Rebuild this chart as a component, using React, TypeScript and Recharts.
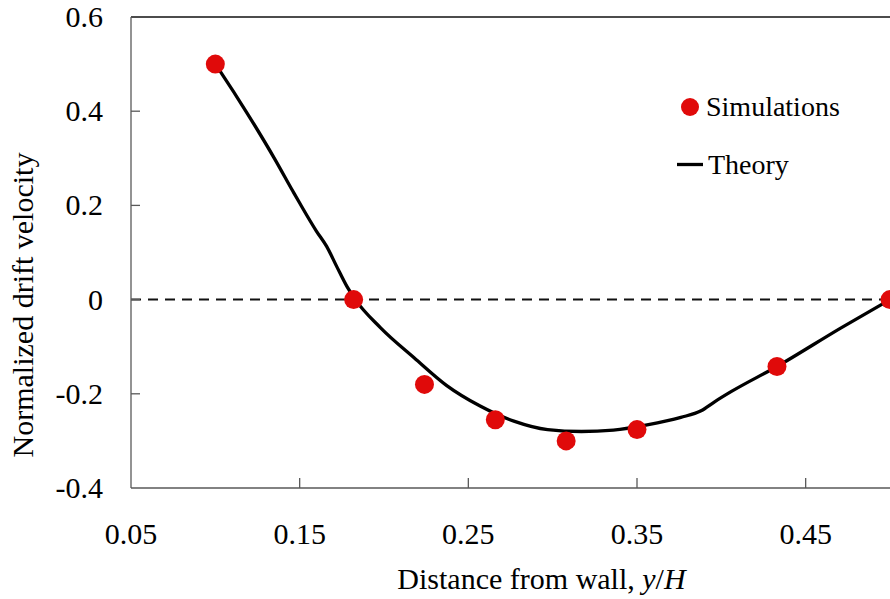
import React from "react";
import {
  ComposedChart,
  Line,
  Scatter,
  XAxis,
  YAxis,
  ReferenceLine,
} from "recharts";

// Simulations (red dots)
const simX = [0.1, 0.182, 0.224, 0.266, 0.308, 0.35, 0.433, 0.5];
const simY = [0.5, 0.0, -0.18, -0.255, -0.3, -0.276, -0.142, 0.0];

// Theory curve (black line)
const theoryX = [
  0.1, 0.103, 0.119, 0.135, 0.146, 0.15, 0.16, 0.166, 0.172, 0.178, 0.183,
  0.198, 0.218, 0.237, 0.257, 0.277, 0.297, 0.317, 0.336, 0.356, 0.376, 0.388,
  0.396, 0.406, 0.433, 0.471, 0.5,
];
const theoryY = [
  0.5, 0.484, 0.395, 0.3, 0.23, 0.205, 0.145, 0.113, 0.07, 0.028, 0.0,
  -0.06, -0.124, -0.182, -0.226, -0.258, -0.276, -0.28, -0.277, -0.266, -0.25,
  -0.236, -0.217, -0.195, -0.142, -0.06, 0.0,
];

const xTicks = [0.05, 0.15, 0.25, 0.35, 0.45];
const yTicks = [-0.4, -0.2, 0, 0.2, 0.4, 0.6];
const xDomain = [0.05, 0.5];
const yDomain = [-0.4, 0.6];

const legendItems = ["Simulations", "Theory"];
const xLabel = "Distance from wall, ";
const yLabel = "Normalized drift velocity";

const simData = simX.map((x, i) => ({ x, y: simY[i] }));
const theoryData = theoryX.map((x, i) => ({ x, y: theoryY[i] }));

const FONT = "'Liberation Serif', 'Times New Roman', serif";
const RED = "#e00a0a";
const AXIS = "#595959";
const textStyle = { fontFamily: FONT };

const XTick = (props: any) => {
  const { x, y, payload } = props;
  return (
    <g>
      {payload.value !== xDomain[0] && (
        <line x1={x} y1={y} x2={x} y2={y - 10} stroke={AXIS} strokeWidth={1.3} />
      )}
      <text
        x={x}
        y={y + 56}
        textAnchor="middle"
        style={textStyle}
        fontSize={30}
        fill="#000"
      >
        {String(payload.value)}
      </text>
    </g>
  );
};

const YTick = (props: any) => {
  const { x, y, payload } = props;
  const v = payload.value;
  return (
    <g>
      {v !== yDomain[0] && v !== yDomain[1] && (
        <line x1={x} y1={y} x2={x + 9} y2={y} stroke={AXIS} strokeWidth={1.3} />
      )}
      <text
        x={x - 28}
        y={y + 10}
        textAnchor="end"
        style={textStyle}
        fontSize={30}
        fill="#000"
      >
        {String(v)}
      </text>
    </g>
  );
};

const Dot = (props: any) => {
  const { cx, cy } = props;
  return <circle cx={cx} cy={cy} r={9.5} fill={RED} />;
};

const LegendBox = () => (
  <svg
    width={230}
    height={110}
    style={{ position: "absolute", left: 660, top: 80, overflow: "visible" }}
  >
    <circle cx={30} cy={27} r={9} fill={RED} />
    <text x={46} y={36} style={textStyle} fontSize={28} fill="#000">
      {legendItems[0]}
    </text>
    <line x1={17} y1={84.5} x2={43} y2={84.5} stroke="#000" strokeWidth={3.3} />
    <text x={48} y={93.5} style={textStyle} fontSize={28} fill="#000">
      {legendItems[1]}
    </text>
  </svg>
);

export default function App() {
  return (
    <div
      style={{
        position: "fixed",
        left: 0,
        top: 0,
        width: 890,
        height: 599,
        overflow: "hidden",
        background: "#fff",
      }}
    >
      <ComposedChart
        width={900}
        height={599}
        margin={{ top: 17, right: 10, left: 0, bottom: 0 }}
      >
        <XAxis
          type="number"
          dataKey="x"
          domain={xDomain}
          ticks={xTicks}
          allowDataOverflow
          height={111}
          tickSize={0}
          tickMargin={0}
          tickLine={false}
          axisLine={{ stroke: AXIS, strokeWidth: 1.3 }}
          tick={<XTick />}
          interval={0}
          label={{
            content: () => (
              <text
                x={541.5}
                y={589}
                textAnchor="middle"
                style={textStyle}
                fontSize={30}
                fill="#000"
              >
                {xLabel}
                <tspan fontStyle="italic">y</tspan>/
                <tspan fontStyle="italic">H</tspan>
              </text>
            ),
          }}
        />
        <YAxis
          type="number"
          dataKey="y"
          domain={yDomain}
          ticks={yTicks}
          allowDataOverflow
          width={131}
          tickSize={0}
          tickMargin={0}
          tickLine={false}
          axisLine={{ stroke: AXIS, strokeWidth: 1.3 }}
          tick={<YTick />}
          interval={0}
          label={{
            content: () => (
              <text
                x={33}
                y={305}
                transform="rotate(-90 33 305)"
                textAnchor="middle"
                style={textStyle}
                fontSize={30}
                fill="#000"
              >
                {yLabel}
              </text>
            ),
          }}
        />
        <ReferenceLine y={yDomain[1]} stroke="#111" strokeWidth={1.5} />
        <ReferenceLine
          y={0}
          stroke="#111"
          strokeWidth={2}
          strokeDasharray="10 7"
        />
        <Line
          name="Theory"
          data={theoryData}
          dataKey="y"
          type="monotone"
          stroke="#000"
          strokeWidth={3.3}
          dot={false}
          activeDot={false}
          isAnimationActive={false}
        />
        <Scatter
          name="Simulations"
          data={simData}
          dataKey="y"
          shape={<Dot />}
          isAnimationActive={false}
        />
      </ComposedChart>
      <LegendBox />
    </div>
  );
}
